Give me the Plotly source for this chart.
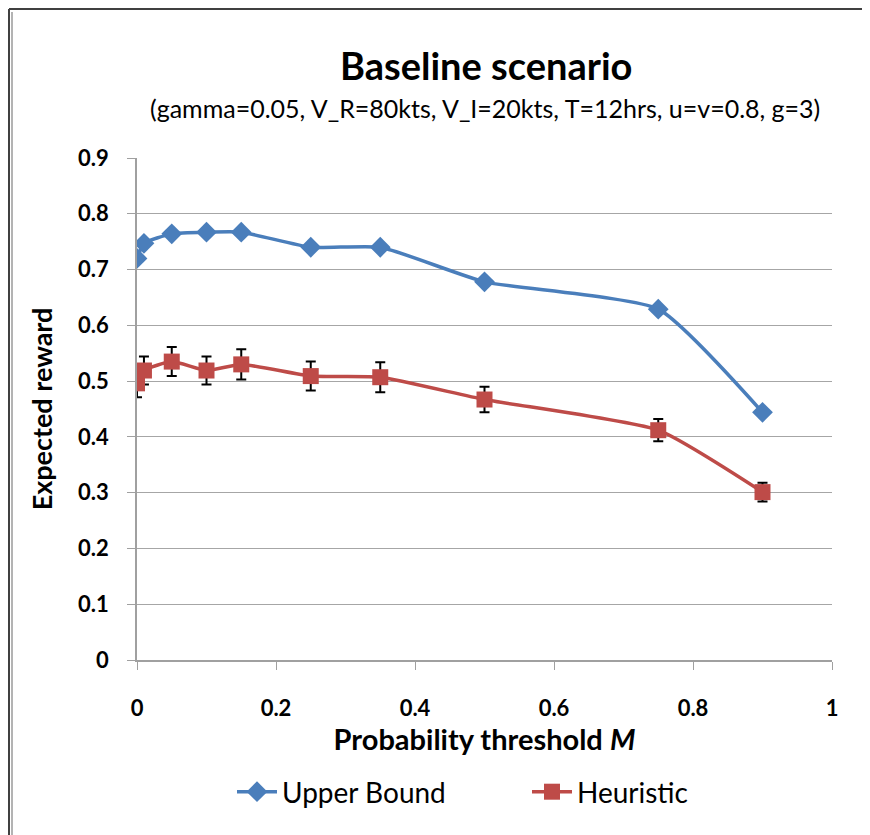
import plotly.graph_objects as go

thresholds = [0, 0.01, 0.05, 0.1, 0.15, 0.25, 0.35, 0.5, 0.75, 0.9]
upper_bound = [0.720, 0.747, 0.764, 0.767, 0.767, 0.740, 0.740, 0.678, 0.629, 0.444]
heuristic = [0.496, 0.519, 0.535, 0.519, 0.530, 0.509, 0.507, 0.467, 0.412, 0.301]
heuristic_err = [0.025, 0.025, 0.026, 0.025, 0.027, 0.026, 0.027, 0.023, 0.020, 0.017]

x_ticks = [0, 0.2, 0.4, 0.6, 0.8, 1]
x_tick_text = ["0", "0.2", "0.4", "0.6", "0.8", "1"]
y_ticks = [0, 0.1, 0.2, 0.3, 0.4, 0.5, 0.6, 0.7, 0.8, 0.9]
y_tick_text = ["0", "0.1", "0.2", "0.3", "0.4", "0.5", "0.6", "0.7", "0.8", "0.9"]

FONT = "Lato, 'Open Sans', sans-serif"
BLUE = "#4a7ebb"
RED = "#be4b48"

W, H = 870, 835
OFF = 8  # page body margin
ML, MT = 137 - OFF, 158 - OFF
PW, PH = 695, 502
MR = W - ML - PW
MB = H - MT - PH


def px(sx):
    return (sx - OFF - ML) / PW


def py(sy):
    return (H - MB - (sy - OFF)) / PH


fig = go.Figure()
fig.add_trace(go.Scatter(
    x=thresholds, y=upper_bound, name="Upper Bound", mode="lines+markers",
    line=dict(color=BLUE, width=3.5, shape="spline", smoothing=0.5),
    marker=dict(symbol="diamond", size=16, color=BLUE),
))
fig.add_trace(go.Scatter(
    x=thresholds, y=heuristic, name="Heuristic", mode="lines+markers",
    line=dict(color=RED, width=3.5, shape="spline", smoothing=0.5),
    marker=dict(symbol="square", size=16, color=RED),
    error_y=dict(type="data", array=heuristic_err, color="black", thickness=2, width=5),
))

fig.update_layout(
    width=W, height=H,
    margin=dict(l=ML, r=MR, t=MT, b=MB, autoexpand=False),
    paper_bgcolor="white", plot_bgcolor="white",
    font=dict(family=FONT, color="black"),
    showlegend=True,
    legend=dict(orientation="h", x=px(232), xanchor="left", y=py(792), yanchor="middle",
                font=dict(size=28, family=FONT), itemwidth=40,
                entrywidth=240, entrywidthmode="pixels",
                traceorder="normal"),
    xaxis=dict(range=[0, 1], tickvals=x_ticks, ticktext=x_tick_text,
               showgrid=False, zeroline=False, showline=True, linecolor="#a0a0a0",
               linewidth=1.5, ticks="outside", tickcolor="#a0a0a0", ticklen=8,
               ticklabelstandoff=20,
               tickfont=dict(size=22, family=FONT, weight="bold"),
               title=dict(text="<b>Probability threshold <i>M</i></b>",
                          font=dict(size=29, family=FONT), standoff=8)),
    yaxis=dict(range=[0, 0.9], tickvals=y_ticks, ticktext=y_tick_text,
               showgrid=True, gridcolor="#a6a6a6", gridwidth=1.3, zeroline=False,
               showline=True, linecolor="#a0a0a0", linewidth=1.5,
               ticks="outside", tickcolor="#a0a0a0", ticklen=8,
               ticklabelstandoff=14,
               tickfont=dict(size=22, family=FONT, weight="bold"),
               title=dict(text="<b>Expected reward</b>", font=dict(size=27, family=FONT),
                          standoff=18)),
    annotations=[
        dict(text="<b>Baseline scenario</b>", x=px(486), y=py(65), xref="paper", yref="paper",
             showarrow=False, font=dict(size=38, family=FONT), xanchor="center", yanchor="middle"),
        dict(text="(gamma=0.05, V_R=80kts, V_I=20kts, T=12hrs, u=v=0.8, g=3)",
             x=px(485), y=py(108), xref="paper", yref="paper", showarrow=False,
             font=dict(size=25, family=FONT), xanchor="center", yanchor="middle"),
    ],
    shapes=[
        dict(type="line", xref="paper", yref="paper", x0=px(9), x1=px(9), y0=py(9), y1=py(843),
             line=dict(color="#404040", width=2)),
        dict(type="line", xref="paper", yref="paper", x0=px(12), x1=px(12), y0=py(12), y1=py(843),
             line=dict(color="#9a9a9a", width=1.5)),
        dict(type="line", xref="paper", yref="paper", x0=px(9), x1=px(878), y0=py(9), y1=py(9),
             line=dict(color="#404040", width=2)),
        dict(type="line", xref="paper", yref="paper", x0=px(866), x1=px(866), y0=py(9), y1=py(843),
             line=dict(color="#404040", width=2)),
    ],
)

fig.write_html("out.html")
